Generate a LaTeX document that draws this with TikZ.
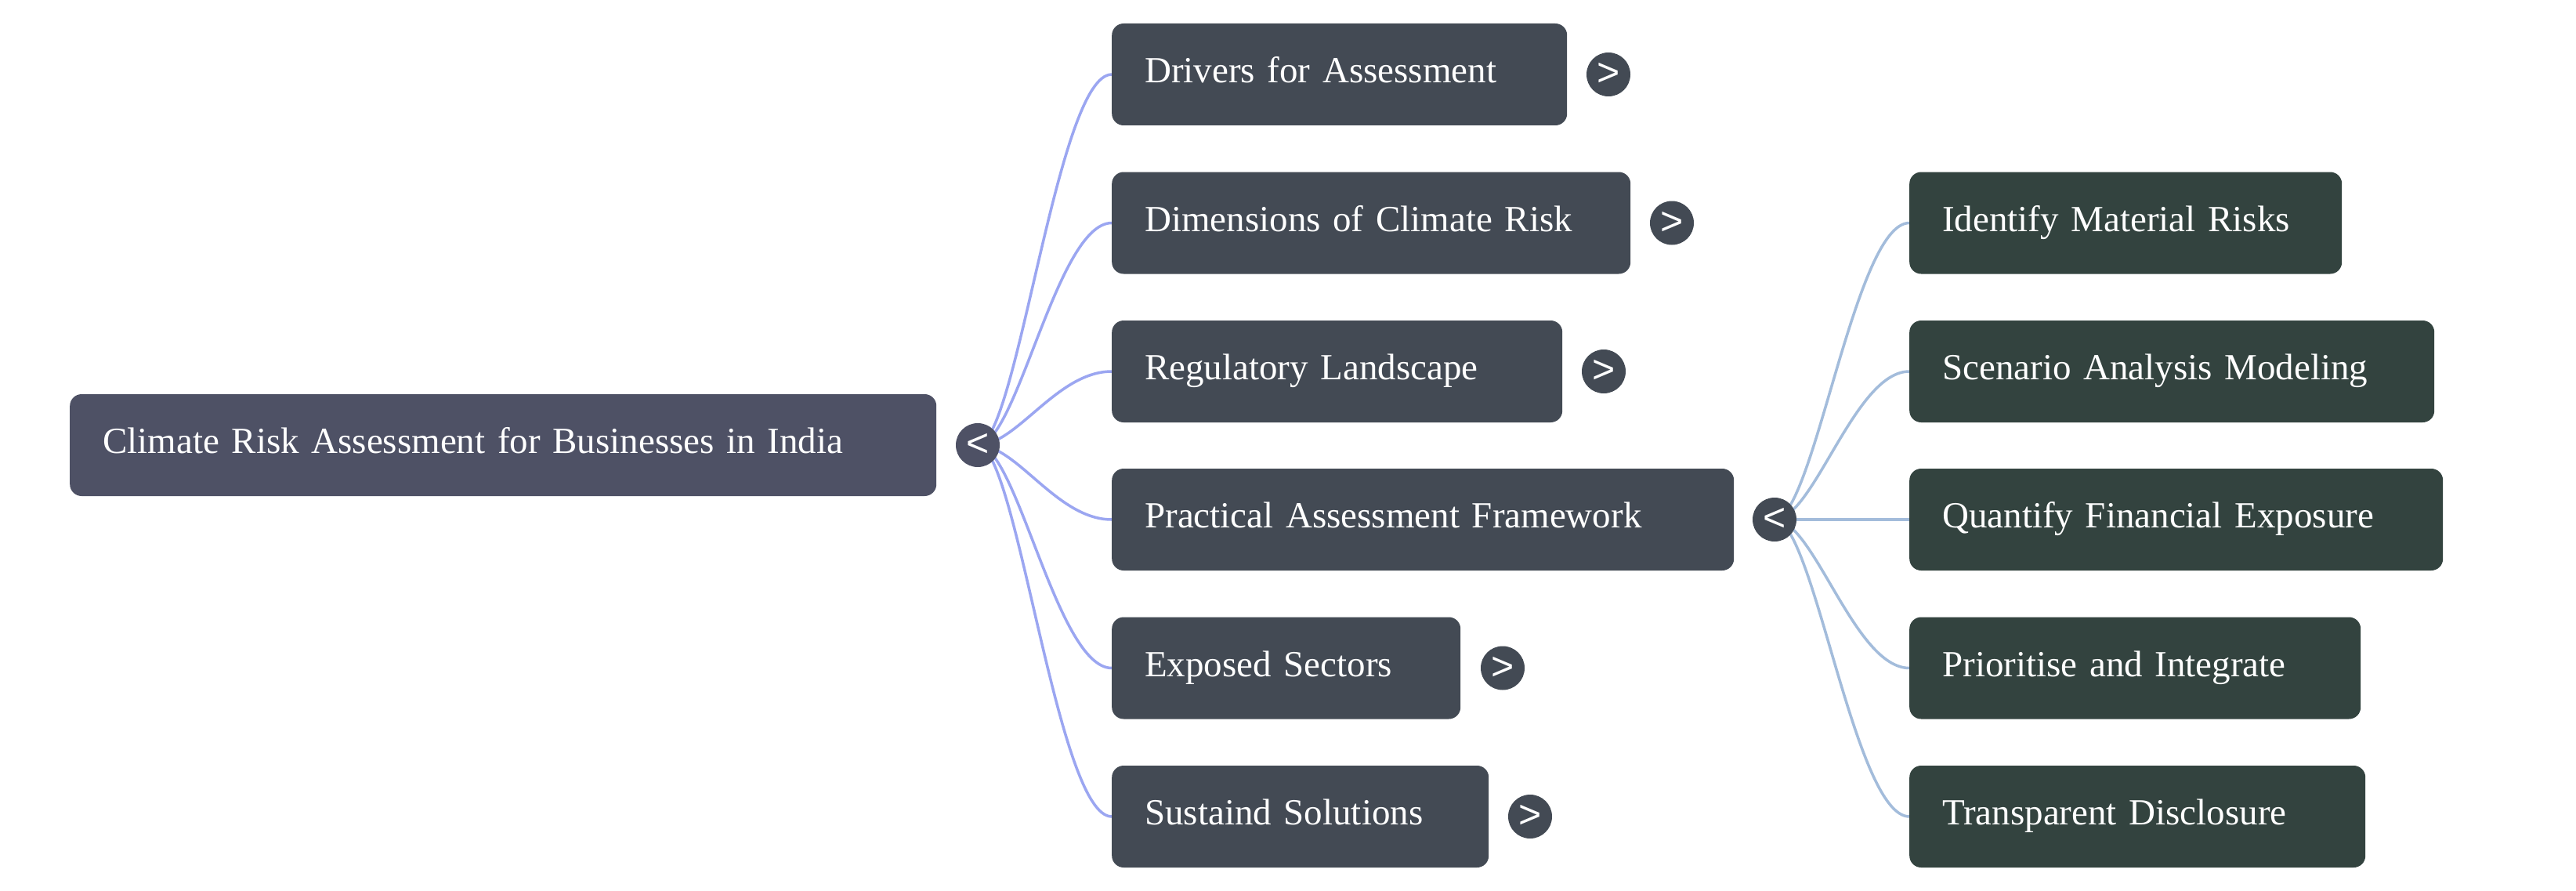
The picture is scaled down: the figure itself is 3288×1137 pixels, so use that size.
\documentclass[tikz,border=0pt]{standalone}
\usepackage{fontspec}
\setmainfont[WordSpace=0.85]{Liberation Serif}
\newfontfamily\chevfont{Liberation Sans}
\usetikzlibrary{backgrounds}
\definecolor{rootfill}{HTML}{4E5165}
\definecolor{lonefill}{HTML}{434A54}
\definecolor{ltwofill}{HTML}{33433F}
\definecolor{lonelink}{HTML}{9BA6F1}
\definecolor{ltwolink}{HTML}{A3BCDB}
\begin{document}
\begin{tikzpicture}[x=1pt,y=-1pt,
  box/.style={anchor=west, rounded corners=15pt, minimum height=130pt,
    inner xsep=42pt, inner ysep=0pt, align=left, text=white,
    font=\fontsize{47}{56}\selectfont, text height=40pt, text depth=19pt},
  rootbox/.style={box, fill=rootfill},
  onebox/.style={box, fill=lonefill},
  twobox/.style={box, fill=ltwofill},
  expander/.style={circle, minimum size=56pt, inner sep=0pt, text=white,
    font=\chevfont\fontsize{50}{50}\selectfont},
  link/.style={line width=3.5pt},
]
\useasboundingbox (0,0) rectangle (3288,1137);

% root
\node[rootbox, text width=1022pt] (root) at (89,568) {Climate Risk Assessment for Businesses in India};
\node[expander, fill=rootfill] (rootx) at (1248,568) {<};

% level 1
\node[onebox, text width=497pt] (drv) at (1419,95) {Drivers for Assessment};
\node[expander, fill=lonefill] (drvx) at (2053,95) {>};
\node[onebox, text width=578pt] (dim) at (1419,284.5) {Dimensions of Climate Risk};
\node[expander, fill=lonefill] (dimx) at (2134,284.5) {>};
\node[onebox, text width=491pt] (reg) at (1419,474) {Regulatory Landscape};
\node[expander, fill=lonefill] (regx) at (2047,474) {>};
\node[onebox, text width=710pt] (pra) at (1419,663) {Practical Assessment Framework};
\node[expander, fill=lonefill] (prax) at (2265,663) {<};
\node[onebox, text width=361pt] (exs) at (1419,852.5) {Exposed Sectors};
\node[expander, fill=lonefill] (exsx) at (1918,852.5) {>};
\node[onebox, text width=397pt] (sus) at (1419,1042) {Sustaind Solutions};
\node[expander, fill=lonefill] (susx) at (1953,1042) {>};

% level 2
\node[twobox, text width=468pt] (idm) at (2437,284.5) {Identify Material Risks};
\node[twobox, text width=586pt] (sce) at (2437,474) {Scenario Analysis Modeling};
\node[twobox, text width=597pt] (qfe) at (2437,663) {Quantify Financial Exposure};
\node[twobox, text width=492pt] (pri) at (2437,852.5) {Prioritise and Integrate};
\node[twobox, text width=498pt] (tra) at (2437,1042) {Transparent Disclosure};

\begin{scope}[on background layer]
  \fill[white] (0,0) rectangle (3288,1137);
  \foreach \t in {drv,dim,reg,pra,exs,sus}
    \draw[link, lonelink] (rootx.center) .. controls +(50,0) and +(-70,0) .. (\t.west);
  \foreach \t in {idm,sce,qfe,pri,tra}
    \draw[link, ltwolink] (prax.center) .. controls +(50,0) and +(-70,0) .. (\t.west);
\end{scope}
\end{tikzpicture}
\end{document}
